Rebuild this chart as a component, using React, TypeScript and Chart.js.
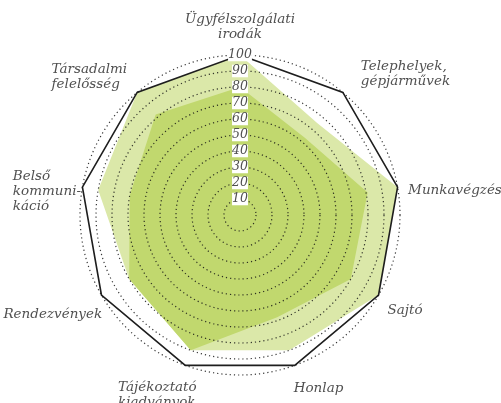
import React, { useEffect, useRef } from 'react';
import { Chart, registerables } from 'chart.js';

Chart.register(...registerables);

const categories: string[][] = [
  ['Ügyfélszolgálati', 'irodák'],
  ['Telephelyek,', 'gépjárművek'],
  ['Munkavégzés'],
  ['Sajtó'],
  ['Honlap'],
  ['Tájékoztató', 'kiadványok'],
  ['Rendezvények'],
  ['Belső', 'kommuni-', 'káció'],
  ['Társadalmi', 'felelősség'],
];
const outlineValues = [100, 100, 100, 100, 100, 100, 100, 100, 100];
const lightValues = [100, 75, 100, 100, 90, 90, 80, 90, 100];
const darkValues = [80, 63, 81, 80, 68, 90, 80, 70, 82];
const scaleMin = 0;
const scaleMax = 100;
const scaleStep = 10;

const FONT_FAMILY = '"DejaVu Serif"';
const LABEL_FONT = `italic 13.5px ${FONT_FAMILY}`;
const TICK_SIZE = 12.5;
const TICK_FONT = `italic ${TICK_SIZE}px ${FONT_FAMILY}`;
const LINE_H = 15;
const TEXT_COLOR = '#505050';

type Layout = { h: 'left' | 'right' | 'center'; v: 'top' | 'middle' | 'bottom'; dx: number; dy: number };
const labelLayout: Layout[] = [
  { h: 'center', v: 'bottom', dx: 0, dy: -13.5 },
  { h: 'left', v: 'middle', dx: 18, dy: -18.5 },
  { h: 'left', v: 'middle', dx: 10.5, dy: 3 },
  { h: 'left', v: 'middle', dx: 9, dy: 15 },
  { h: 'left', v: 'middle', dx: -1, dy: 23 },
  { h: 'right', v: 'top', dx: 11.4, dy: 15 },
  { h: 'right', v: 'middle', dx: 0.7, dy: 19 },
  { h: 'right', v: 'middle', dx: -1.4, dy: 4.6 },
  { h: 'right', v: 'middle', dx: -10, dy: -15 },
];

let measureCtx: CanvasRenderingContext2D | null = null;
function measureTick(text: string): number {
  if (!measureCtx) {
    const c = document.createElement('canvas');
    measureCtx = c.getContext('2d');
  }
  if (!measureCtx) return 0;
  measureCtx.font = TICK_FONT;
  return measureCtx.measureText(text).width;
}

const pointLabelPlugin = {
  id: 'customPointLabels',
  afterDraw(chart: any) {
    const scale = chart.scales.r;
    const ctx: CanvasRenderingContext2D = chart.ctx;
    ctx.save();
    ctx.font = LABEL_FONT;
    ctx.fillStyle = TEXT_COLOR;
    ctx.textBaseline = 'middle';
    const R = scale.getDistanceFromCenterForValue(scaleMax);
    categories.forEach((lines, i) => {
      const p = scale.getPointPosition(i, R);
      const L = labelLayout[i];
      const w = Math.max(...lines.map((l) => ctx.measureText(l).width));
      const h = lines.length * LINE_H;
      const left = L.h === 'left' ? p.x + L.dx : L.h === 'right' ? p.x + L.dx - w : p.x + L.dx - w / 2;
      const top = L.v === 'top' ? p.y + L.dy : L.v === 'bottom' ? p.y + L.dy - h : p.y + L.dy - h / 2;
      lines.forEach((line, k) => {
        const y = top + LINE_H * (k + 0.5);
        if (L.h === 'center') {
          ctx.textAlign = 'center';
          ctx.fillText(line, left + w / 2, y);
        } else {
          ctx.textAlign = 'left';
          ctx.fillText(line, left, y);
        }
      });
    });
    ctx.restore();
  },
};

export default function App() {
  const ref = useRef<HTMLCanvasElement | null>(null);
  useEffect(() => {
    if (!ref.current) return;
    const chart = new Chart(ref.current, {
      type: 'radar',
      data: {
        labels: categories.map((c) => c.join(' ')),
        datasets: [
          {
            label: 'max',
            data: outlineValues,
            borderColor: '#1e1e1e',
            borderWidth: 1.6,
            backgroundColor: 'rgba(0,0,0,0)',
            fill: false,
            pointRadius: 0,
          },
          {
            label: 'B',
            data: darkValues,
            borderWidth: 0,
            borderColor: 'rgba(0,0,0,0)',
            backgroundColor: '#c1d86e',
            fill: true,
            pointRadius: 0,
          },
          {
            label: 'A',
            data: lightValues,
            borderWidth: 0,
            borderColor: 'rgba(0,0,0,0)',
            backgroundColor: '#dbe8a9',
            fill: true,
            pointRadius: 0,
          },
        ],
      },
      options: {
        responsive: false,
        animation: false,
        devicePixelRatio: 1,
        layout: { padding: { top: 49, bottom: 21, left: 40, right: 61 } },
        plugins: { legend: { display: false }, tooltip: { enabled: false } },
        elements: { line: { tension: 0 } },
        scales: {
          r: {
            min: scaleMin,
            max: scaleMax,
            angleLines: { display: false },
            grid: { circular: true, color: 'rgba(20,20,20,0.85)', lineWidth: 1.2, z: 1 } as any,
            border: { dash: [1.2, 3] } as any,
            pointLabels: { display: false },
            ticks: {
              z: 2,
              stepSize: scaleStep,
              color: TEXT_COLOR,
              font: { family: 'DejaVu Serif', size: TICK_SIZE, style: 'italic' },
              showLabelBackdrop: true,
              backdropColor: '#ffffff',
              backdropPadding: ((c: any) => {
                if (!c || !c.tick) return { top: 2, bottom: 2, left: 2, right: 2 };
                const w = measureTick(String(c.tick.label));
                const px = Math.max(0, (26 - w) / 2);
                return {
                  left: px,
                  right: px,
                  top: c.tick.value === scaleMax ? 4 : 2.5,
                  bottom: c.tick.value === scaleStep ? 10 : 2.5,
                };
              }) as any,
            } as any,
          },
        },
      },
      plugins: [pointLabelPlugin],
    });
    return () => chart.destroy();
  }, []);
  return (
    <div style={{ position: 'fixed', left: 0, top: 0, width: 501, height: 403, background: '#fff' }}>
      <canvas ref={ref} width={501} height={403} style={{ display: 'block' }} />
    </div>
  );
}
